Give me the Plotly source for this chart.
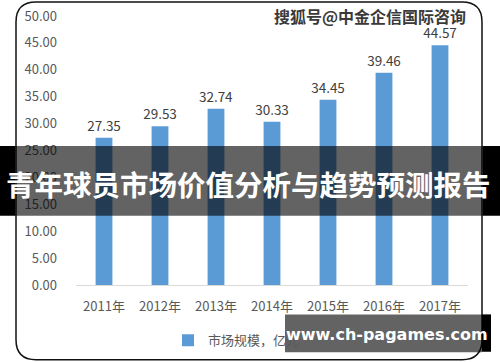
import plotly.graph_objects as go

years = ["2011年", "2012年", "2013年", "2014年", "2015年", "2016年", "2017年"]
market_size = [27.35, 29.53, 32.74, 30.33, 34.45, 39.46, 44.57]
series_name = "市场规模，亿元"
y_ticks = [0, 5, 10, 15, 20, 25, 30, 35, 40, 45, 50]
banner_title = "青年球员市场价值分析与趋势预测报告"
top_mark = "搜狐号@中金企信国际咨询"
bottom_mark = "www.ch-pagames.com"

W, H = 500, 362
L, R, T, B = 76, 32, 15.5, 76.5
PW, PH = W - L - R, H - T - B

def px(x):
    return (x - L) / PW

def py(y):
    return (H - B - y) / PH

FONT = "Noto Sans CJK SC, DejaVu Sans, sans-serif"

fig = go.Figure()
fig.add_trace(go.Bar(
    x=years, y=market_size, name=series_name,
    marker=dict(color="#5b9bd5", line=dict(width=0)),
    text=[f"{v:.2f}" for v in market_size], textposition="outside",
    textfont=dict(size=13.5, color="#404040", family=FONT),
    constraintext="none", cliponaxis=False, hoverinfo="skip",
))

# rounded border
x0, x1, y0, y1, r = 16, 482, 1.5, 360.5, 20
path = (f"M{px(x0+r)},{py(y0)} L{px(x1-r)},{py(y0)} Q{px(x1)},{py(y0)} {px(x1)},{py(y0+r)} "
        f"L{px(x1)},{py(y1-r)} Q{px(x1)},{py(y1)} {px(x1-r)},{py(y1)} "
        f"L{px(x0+r)},{py(y1)} Q{px(x0)},{py(y1)} {px(x0)},{py(y1-r)} "
        f"L{px(x0)},{py(y0+r)} Q{px(x0)},{py(y0)} {px(x0+r)},{py(y0)} Z")
shapes = [
    dict(type="path", xref="paper", yref="paper", path=path,
         line=dict(color="#111111", width=1.5), layer="below"),
    # banner
    dict(type="rect", xref="paper", yref="paper", x0=px(0), x1=px(15.5), y0=py(216), y1=py(146),
         fillcolor="black", line=dict(width=0), layer="above"),
    dict(type="rect", xref="paper", yref="paper", x0=px(483), x1=px(500), y0=py(216), y1=py(146),
         fillcolor="black", line=dict(width=0), layer="above"),
    dict(type="rect", xref="paper", yref="paper", x0=px(15.5), x1=px(483), y0=py(216), y1=py(146),
         fillcolor="rgba(0,0,0,0.61)", line=dict(width=0), layer="above"),
    # bottom watermark box
    dict(type="rect", xref="paper", yref="paper", x0=px(285), x1=px(482), y0=py(353), y1=py(315),
         fillcolor="rgba(0,0,0,0.61)", line=dict(width=0), layer="above"),
    dict(type="rect", xref="paper", yref="paper", x0=px(482), x1=px(491), y0=py(352.5), y1=py(315),
         fillcolor="black", line=dict(width=0), layer="above"),
]

annotations = [
    dict(text=banner_title, xref="paper", yref="paper", x=px(248), y=py(184),
         showarrow=False, font=dict(size=28.5, color="white", family=FONT, weight="bold"),
         xanchor="center", yanchor="middle"),
    dict(text=bottom_mark, xref="paper", yref="paper", x=px(387), y=py(335),
         showarrow=False, font=dict(size=16, color="white", family="DejaVu Sans, sans-serif", weight="bold"),
         xanchor="center", yanchor="middle"),
    dict(text=top_mark, xref="paper", yref="paper", x=px(370), y=py(16),
         showarrow=False, font=dict(size=16, color="#3a3a3a", family=FONT, weight="bold"),
         xanchor="center", yanchor="middle"),
]

fig.update_layout(
    width=W, height=H,
    margin=dict(l=L, r=R, t=T, b=B, pad=0, autoexpand=False),
    paper_bgcolor="white", plot_bgcolor="white",
    bargap=0.7,
    showlegend=True,
    legend=dict(orientation="h", x=px(168), xanchor="left", y=py(326), yanchor="top",
                font=dict(size=13, color="#595959", family=FONT), bgcolor="rgba(0,0,0,0)",
                itemwidth=30),
    shapes=shapes, annotations=annotations,
    xaxis=dict(showline=True, linecolor="#d9d9d9", linewidth=1, ticks="", ticklabelstandoff=9,
               automargin=False,
               tickfont=dict(size=13, color="#595959", family=FONT), showgrid=False),
    yaxis=dict(range=[0, 50], tickvals=y_ticks, ticktext=[f"{v:.2f}" for v in y_ticks],
               showgrid=False, zeroline=False, showline=False, ticks="", ticklabelstandoff=18,
               automargin=False,
               tickfont=dict(size=13, color="#595959", family=FONT)),
    font=dict(family=FONT),
)

fig.write_html("out.html", config={"displayModeBar": False},
               post_script="document.body.style.margin='0';document.body.style.overflow='hidden';")
